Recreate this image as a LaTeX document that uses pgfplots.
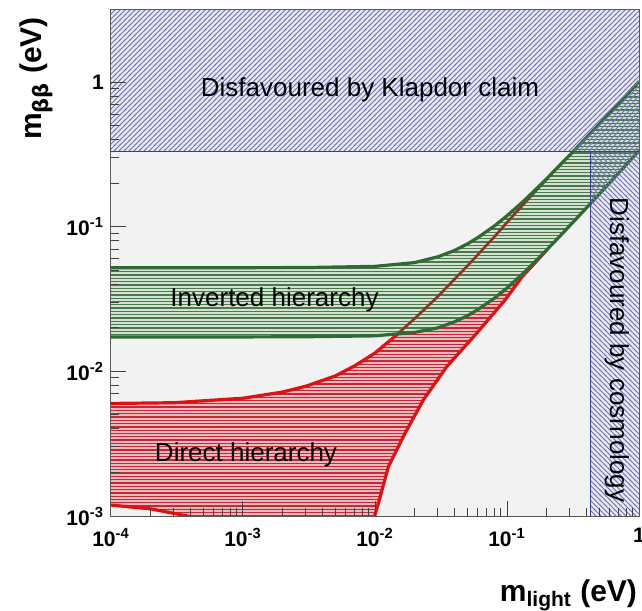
\documentclass[border=0pt]{standalone}
\usepackage{fontspec}
\setmainfont{Liberation Sans}
\usepackage{pgfplots}
\pgfplotsset{compat=1.18}
\usetikzlibrary{patterns,calc}

% hatch patterns
\pgfdeclarepatternformonly{hstripes}{\pgfqpoint{-1pt}{-1pt}}{\pgfqpoint{5pt}{2.65pt}}{\pgfqpoint{4pt}{1.65pt}}{%
  \pgfsetlinewidth{0.65pt}%
  \pgfpathmoveto{\pgfqpoint{-0.5pt}{0.8pt}}\pgfpathlineto{\pgfqpoint{4.5pt}{0.8pt}}\pgfusepath{stroke}}
\pgfdeclarepatternformonly{nestripes}{\pgfqpoint{-1pt}{-1pt}}{\pgfqpoint{3.5pt}{3.5pt}}{\pgfqpoint{2.5pt}{2.5pt}}{%
  \pgfsetlinewidth{0.45pt}%
  \pgfpathmoveto{\pgfqpoint{-0.5pt}{-0.5pt}}\pgfpathlineto{\pgfqpoint{3pt}{3pt}}\pgfusepath{stroke}}
\pgfdeclarepatternformonly{nwstripes}{\pgfqpoint{-1pt}{-1pt}}{\pgfqpoint{3.5pt}{3.5pt}}{\pgfqpoint{2.5pt}{2.5pt}}{%
  \pgfsetlinewidth{0.45pt}%
  \pgfpathmoveto{\pgfqpoint{-0.5pt}{3pt}}\pgfpathlineto{\pgfqpoint{3pt}{-0.5pt}}\pgfusepath{stroke}}

\definecolor{plotbg}{RGB}{242,242,242}
\definecolor{excbg}{RGB}{234,234,245}
\definecolor{excln}{RGB}{116,116,186}
\definecolor{excedge}{RGB}{58,58,160}
\definecolor{nhbg}{RGB}{236,186,190}
\definecolor{nhln}{RGB}{196,40,52}
\definecolor{nhedge}{RGB}{226,16,16}
\definecolor{nhmix}{RGB}{140,52,36}
\definecolor{ihbg}{RGB}{212,226,212}
\definecolor{ihln}{RGB}{74,122,76}
\definecolor{ihedge}{RGB}{47,106,51}

\newcommand{\tp}[1]{10\textsuperscript{#1}}

\begin{document}
\begin{tikzpicture}
\begin{axis}[
  name=ax,
  at={(0pt,0pt)}, anchor=south west,
  scale only axis,
  width=264pt, height=253pt,
  xmode=log, ymode=log,
  xmin=1e-4, xmax=1,
  ymin=1e-3, ymax=3.15,
  axis background/.style={fill=plotbg},
  axis line style={draw=black!65, line width=0.5pt},
  tick pos=left,
  tick align=inside,
  major tick length=7.5pt,
  minor tick length=4pt,
  tick style={color=black!75, line width=0.5pt},
  xtick={1e-4,1e-3,1e-2,1e-1,1},
  xticklabels={\tp{-4},\tp{-3},\tp{-2},\tp{-1},1},
  ytick={1e-3,1e-2,1e-1,1},
  yticklabels={\tp{-3},\tp{-2},\tp{-1},1},
  tick label style={font=\fontsize{10.5}{12}\selectfont\bfseries},
  xticklabel style={yshift=-2.5pt},
  axis on top,
]

% excluded regions: background tint
\addplot[draw=none, fill=excbg] coordinates {(1e-5,0.33) (10,0.33) (10,10) (1e-5,10)} --cycle;
\addplot[draw=none, fill=excbg] coordinates {(0.43,1e-4) (10,1e-4) (10,0.33) (0.43,0.33)} --cycle;

% normal (direct) hierarchy band
\addplot[draw=none, fill=nhbg] coordinates {
  (1e-4,0.0060) (3e-4,0.00607) (1e-3,0.00652) (2e-3,0.00720) (3e-3,0.00790)
  (5e-3,0.0093) (7e-3,0.0109) (0.01,0.0134) (0.0142,0.0175) (0.02,0.0232)
  (0.03,0.0330) (0.05,0.0535) (0.08,0.0850) (0.11,0.118) (0.14,0.150)
  (0.17,0.182) (0.2,0.213) (0.3,0.312) (0.5,0.510) (1,1.0)
  (1,0.336) (0.5,0.168) (0.3,0.1015) (0.2,0.0690) (0.16,0.0552) (0.13,0.0450)
  (0.0966,0.0311) (0.0589,0.01834) (0.0349,0.01077) (0.02322,0.00634)
  (0.01687,0.00373) (0.01262,0.00219) (0.01078,0.00129) (0.0100,0.00102)
  (0.0095,0.0004) (5e-4,0.0004) (5e-4,0.00091)
  (3.8e-4,0.0010) (2e-4,0.00112) (1e-4,0.00119)} --cycle;
\addplot[draw=none, pattern=hstripes, pattern color=nhln] coordinates {
  (1e-4,0.0060) (3e-4,0.00607) (1e-3,0.00652) (2e-3,0.00720) (3e-3,0.00790)
  (5e-3,0.0093) (7e-3,0.0109) (0.01,0.0134) (0.0142,0.0175) (0.02,0.0232)
  (0.03,0.0330) (0.05,0.0535) (0.08,0.0850) (0.11,0.118) (0.14,0.150)
  (0.17,0.182) (0.2,0.213) (0.3,0.312) (0.5,0.510) (1,1.0)
  (1,0.336) (0.5,0.168) (0.3,0.1015) (0.2,0.0690) (0.16,0.0552) (0.13,0.0450)
  (0.0966,0.0311) (0.0589,0.01834) (0.0349,0.01077) (0.02322,0.00634)
  (0.01687,0.00373) (0.01262,0.00219) (0.01078,0.00129) (0.0100,0.00102)
  (0.0095,0.0004) (5e-4,0.0004) (5e-4,0.00091)
  (3.8e-4,0.0010) (2e-4,0.00112) (1e-4,0.00119)} --cycle;

% normal hierarchy edges
\addplot[nhedge, line width=1.6pt] coordinates {
  (1e-4,0.0060) (3e-4,0.00607) (1e-3,0.00652) (2e-3,0.00720) (3e-3,0.00790)
  (5e-3,0.0093) (7e-3,0.0109) (0.01,0.0134) (0.0142,0.0175) (0.02,0.0232)};
\addplot[nhedge, line width=1.6pt] coordinates {
  (0.0095,0.0004) (0.0100,0.00102) (0.01078,0.00129) (0.01262,0.00219)
  (0.01687,0.00373) (0.02322,0.00634) (0.0349,0.01077) (0.0589,0.01834)
  (0.0966,0.0311) (0.13,0.0450) (0.16,0.0552) (0.2,0.0690)};
\addplot[nhedge, line width=1.6pt] coordinates {
  (1e-4,0.00119) (2e-4,0.00112) (3.8e-4,0.0010) (6e-4,0.00088)};

% inverted hierarchy band
\addplot[draw=none, fill=ihbg] coordinates {
  (1e-4,0.0520) (1e-3,0.0521) (3e-3,0.0522) (0.01,0.0532) (0.02,0.0565)
  (0.03,0.0620) (0.04,0.0685) (0.05,0.0760) (0.06,0.0840) (0.08,0.1010)
  (0.1,0.1190) (0.13,0.1470) (0.16,0.1760) (0.2,0.2150) (0.25,0.2650)
  (0.3,0.3140) (0.4,0.4130) (0.5,0.5120) (0.65,0.6600) (0.8,0.8100) (1,1.0100)
  (1,0.3350) (0.8,0.2680) (0.65,0.2180) (0.5,0.1680) (0.4,0.1350) (0.3,0.1020)
  (0.25,0.0855) (0.2,0.0692) (0.16,0.0563) (0.13,0.0468) (0.1,0.0377)
  (0.08,0.0320) (0.06,0.0267) (0.05,0.0242) (0.04,0.0220) (0.03,0.0200)
  (0.02,0.0186) (0.01,0.0176) (3e-3,0.01735) (1e-3,0.0173) (1e-4,0.0173)} --cycle;
\addplot[draw=none, pattern=hstripes, pattern color=ihln] coordinates {
  (1e-4,0.0520) (1e-3,0.0521) (3e-3,0.0522) (0.01,0.0532) (0.02,0.0565)
  (0.03,0.0620) (0.04,0.0685) (0.05,0.0760) (0.06,0.0840) (0.08,0.1010)
  (0.1,0.1190) (0.13,0.1470) (0.16,0.1760) (0.2,0.2150) (0.25,0.2650)
  (0.3,0.3140) (0.4,0.4130) (0.5,0.5120) (0.65,0.6600) (0.8,0.8100) (1,1.0100)
  (1,0.3350) (0.8,0.2680) (0.65,0.2180) (0.5,0.1680) (0.4,0.1350) (0.3,0.1020)
  (0.25,0.0855) (0.2,0.0692) (0.16,0.0563) (0.13,0.0468) (0.1,0.0377)
  (0.08,0.0320) (0.06,0.0267) (0.05,0.0242) (0.04,0.0220) (0.03,0.0200)
  (0.02,0.0186) (0.01,0.0176) (3e-3,0.01735) (1e-3,0.0173) (1e-4,0.0173)} --cycle;

% upper edge of the normal hierarchy seen through the inverted band
\addplot[nhmix, line width=1.3pt] coordinates {
  (0.0142,0.0175) (0.02,0.0232) (0.03,0.0330) (0.05,0.0535) (0.08,0.0850)
  (0.11,0.118) (0.14,0.150) (0.17,0.182) (0.2,0.213)};

% inverted hierarchy edges
\addplot[ihedge, line width=1.6pt] coordinates {
  (1e-4,0.0520) (1e-3,0.0521) (3e-3,0.0522) (0.01,0.0532) (0.02,0.0565)
  (0.03,0.0620) (0.04,0.0685) (0.05,0.0760) (0.06,0.0840) (0.08,0.1010)
  (0.1,0.1190) (0.13,0.1470) (0.16,0.1760) (0.2,0.2150) (0.25,0.2650)
  (0.3,0.3140) (0.4,0.4130) (0.5,0.5120) (0.65,0.6600) (0.8,0.8100) (1,1.0100)};
\addplot[ihedge, line width=1.6pt] coordinates {
  (1e-4,0.0173) (1e-3,0.0173) (3e-3,0.01735) (0.01,0.0176) (0.02,0.0186)
  (0.03,0.0200) (0.04,0.0220) (0.05,0.0242) (0.06,0.0267) (0.08,0.0320)
  (0.1,0.0377) (0.13,0.0468) (0.16,0.0563) (0.2,0.0692) (0.25,0.0855)
  (0.3,0.1020) (0.4,0.1350) (0.5,0.1680) (0.65,0.2180) (0.8,0.2680) (1,0.3350)};

% excluded regions: hatching and edges
\addplot[draw=none, pattern=nestripes, pattern color=excln] coordinates {(1e-5,0.33) (10,0.33) (10,10) (1e-5,10)} --cycle;
\addplot[draw=none, pattern=nwstripes, pattern color=excln] coordinates {(0.43,1e-4) (10,1e-4) (10,0.33) (0.43,0.33)} --cycle;
\addplot[excedge, line width=0.6pt] coordinates {(1e-5,0.33) (10,0.33)};
\addplot[excedge, line width=0.6pt] coordinates {(0.43,1e-4) (0.43,0.33)};

\node[font=\fontsize{13}{15}\selectfont] at (rel axis cs:0.4905,0.842) {Disfavoured by Klapdor claim};
\node[font=\fontsize{13}{15}\selectfont] at (rel axis cs:0.3097,0.427) {Inverted hierarchy};
\node[font=\fontsize{13}{15}\selectfont] at (rel axis cs:0.2557,0.1206) {Direct hierarchy};
\node[font=\fontsize{13}{15}\selectfont, rotate=-90] at (rel axis cs:0.958,0.328) {Disfavoured by cosmology};
\end{axis}

\node[anchor=base east, font=\fontsize{15}{18}\selectfont\bfseries]
  at ($(ax.south east)+(2.5pt,-42.5pt)$) {m\textsubscript{light} (eV)};
\node[anchor=base east, rotate=90, font=\fontsize{15}{18}\selectfont\bfseries]
  at ($(ax.north west)+(-34.5pt,0pt)$) {m\textsubscript{\fontspec{DejaVu Sans}ββ} (eV)};

\pgfresetboundingbox
\path (-55.5pt,-47pt) rectangle (265.5pt,258pt);
\end{tikzpicture}
\end{document}
